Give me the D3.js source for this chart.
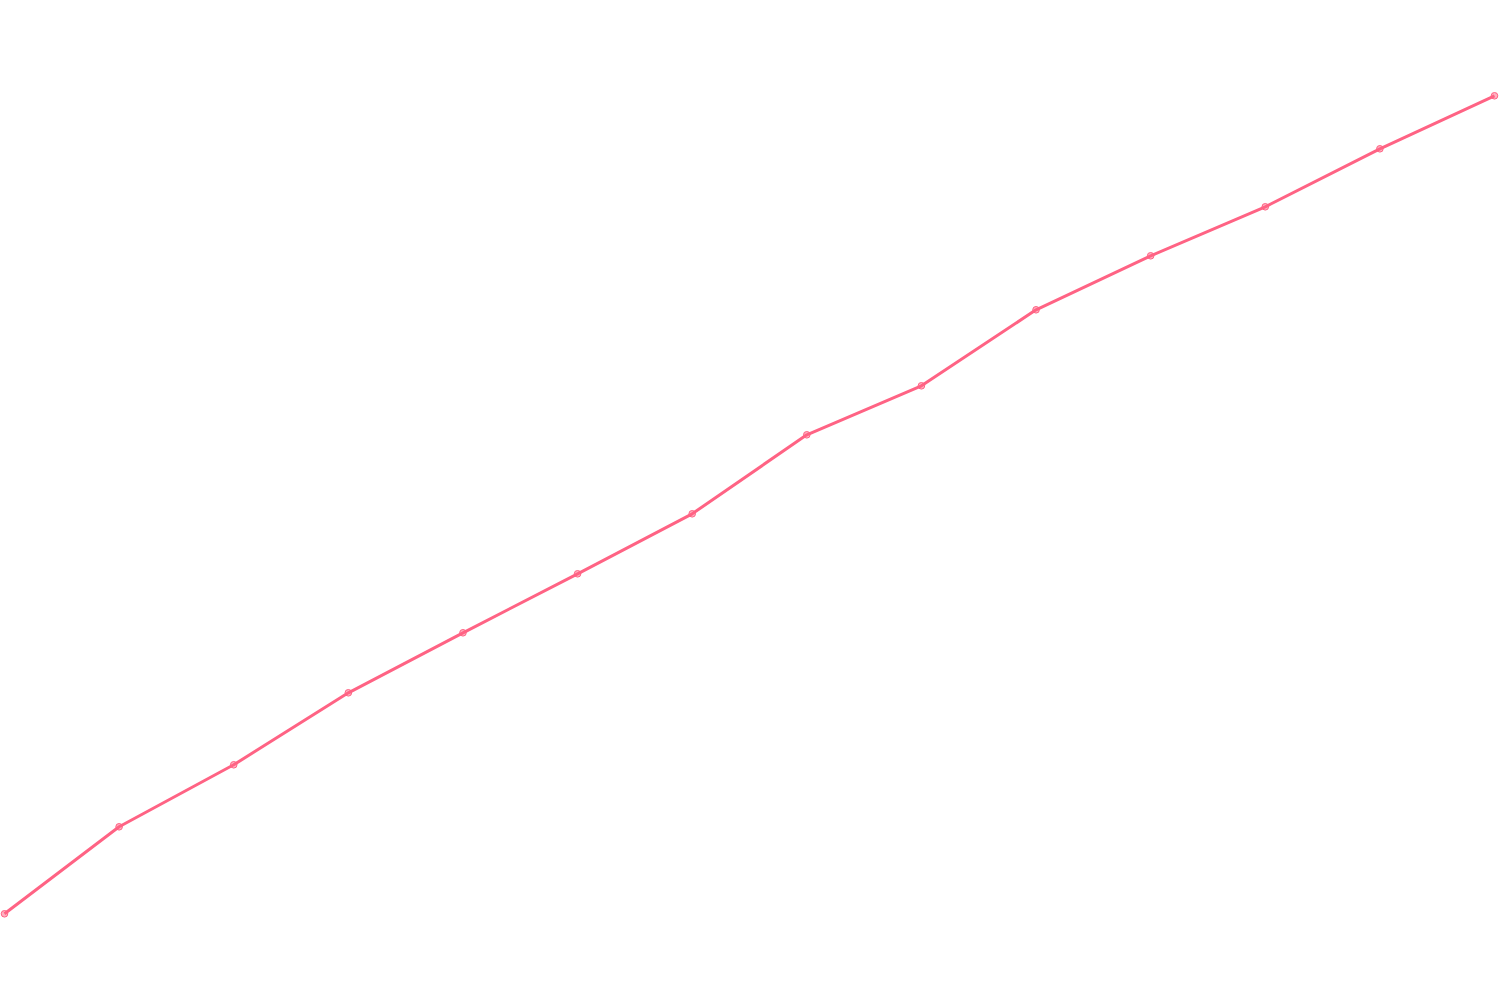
<!DOCTYPE html>
<html>
<head>
<meta charset="utf-8">
<script src="https://cdn.jsdelivr.net/npm/d3@7"></script>
<style>
  html, body { margin: 0; padding: 0; background: #fff; }
  svg { display: block; }
</style>
</head>
<body>
<svg id="chart" width="1500" height="1000"></svg>
<script>
// categories along x (no axis is drawn in the chart)
const labels = ["1", "2", "3", "4", "5", "6", "7", "8", "9", "10", "11", "12", "13", "14"];
// series values
const values = [8.7, 17.4, 23.6, 30.8, 36.8, 42.7, 48.7, 56.6, 61.5, 69.1, 74.5, 79.4, 85.2, 90.5];

const width = 1500, height = 1000;
const color = "#ff6384";

const svg = d3.select("#chart");

const xScale = d3.scalePoint()
    .domain(labels)
    .range([4.5, 1494.5]);

const yScale = d3.scaleLinear()
    .domain([0, 100])
    .range([height + 0.8, 0.8]);

const data = labels.map((d, i) => ({ label: d, value: values[i] }));

// the line
const line = d3.line()
    .x(d => xScale(d.label))
    .y(d => yScale(d.value));

svg.append("path")
    .datum(data)
    .attr("fill", "none")
    .attr("stroke", color)
    .attr("stroke-width", 3)
    .attr("stroke-linejoin", "round")
    .attr("d", line);

// point markers
svg.selectAll("circle")
    .data(data)
    .enter()
    .append("circle")
    .attr("cx", d => xScale(d.label))
    .attr("cy", d => yScale(d.value))
    .attr("r", 3.3)
    .attr("fill", "rgba(255, 99, 132, 0.5)")
    .attr("stroke", color)
    .attr("stroke-width", 1);
</script>
</body>
</html>
